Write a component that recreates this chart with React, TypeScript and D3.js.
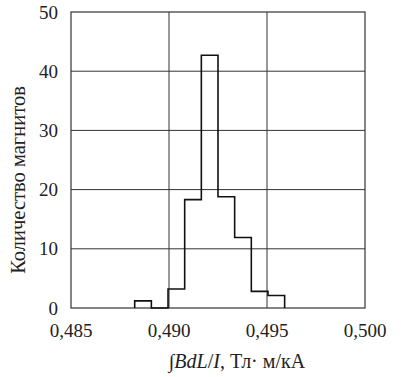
import React from 'react';
import * as d3 from 'd3';

// bin edges and counts
const binEdges = [0.48825, 0.4891, 0.48995, 0.4908, 0.49165, 0.4925, 0.49335, 0.4942, 0.49505, 0.4959];
const counts = [1.2, 0, 3.2, 18.3, 42.7, 18.8, 11.9, 2.8, 2.1];
const xTicks = [0.485, 0.49, 0.495, 0.5];
const yTicks = [0, 10, 20, 30, 40, 50];

const width = 403;
const height = 377;
const margin = { top: 12, right: 38, bottom: 69, left: 71 };
const font = 'Liberation Serif, DejaVu Serif, Times New Roman, serif';

export default function App() {
  const x = d3.scaleLinear().domain([0.485, 0.5]).range([margin.left, width - margin.right]);
  const y = d3.scaleLinear().domain([0, 50]).range([height - margin.bottom, margin.top]);

  const pts: [number, number][] = [[binEdges[0], 0]];
  counts.forEach((c, i) => pts.push([binEdges[i], c]));
  pts.push([binEdges[binEdges.length - 1], 0]);

  const line = d3.line<[number, number]>()
    .x(d => x(d[0]))
    .y(d => y(d[1]))
    .curve(d3.curveStepAfter);

  const fmt = (v: number) => v.toFixed(3).replace('.', ',');

  return (
    <svg width={width} height={height} style={{ position: 'absolute', left: 0, top: 0, background: '#fff' }}>
      {/* grid */}
      {yTicks.slice(1, -1).map(t => (
        <line key={'gy' + t} x1={x(0.485)} x2={x(0.5)} y1={y(t)} y2={y(t)} stroke="#333" strokeWidth={1} />
      ))}
      {xTicks.slice(1, -1).map(t => (
        <line key={'gx' + t} x1={x(t)} x2={x(t)} y1={y(0)} y2={y(50)} stroke="#333" strokeWidth={1} />
      ))}
      <rect x={x(0.485)} y={y(50)} width={x(0.5) - x(0.485)} height={y(0) - y(50)}
        fill="none" stroke="#333" strokeWidth={1.2} />

      <path d={line(pts) || ''} fill="none" stroke="#111" strokeWidth={1.6} />

      {/* tick labels */}
      {yTicks.map(t => (
        <text key={'ty' + t} x={x(0.485) - 13} y={y(t)} dy="0.35em" textAnchor="end"
          style={{ fontFamily: font }} fontSize={19} fill="#222">{t}</text>
      ))}
      {xTicks.map(t => (
        <text key={'tx' + t} x={x(t)} y={337} textAnchor="middle"
          style={{ fontFamily: font }} fontSize={19} fill="#222">{fmt(t)}</text>
      ))}

      {/* axis titles */}
      <text transform={`translate(25,${(y(0) + y(50)) / 2 + 20}) rotate(-90)`} textAnchor="middle"
        style={{ fontFamily: font }} fontSize={20.5} fill="#222">Количество магнитов</text>
      <text x={237} y={368} textAnchor="middle" style={{ fontFamily: font }} fontSize={20} fill="#222">
        ∫<tspan fontStyle="italic">BdL</tspan>/<tspan fontStyle="italic">I</tspan>, Тл· м/кА
      </text>
    </svg>
  );
}
